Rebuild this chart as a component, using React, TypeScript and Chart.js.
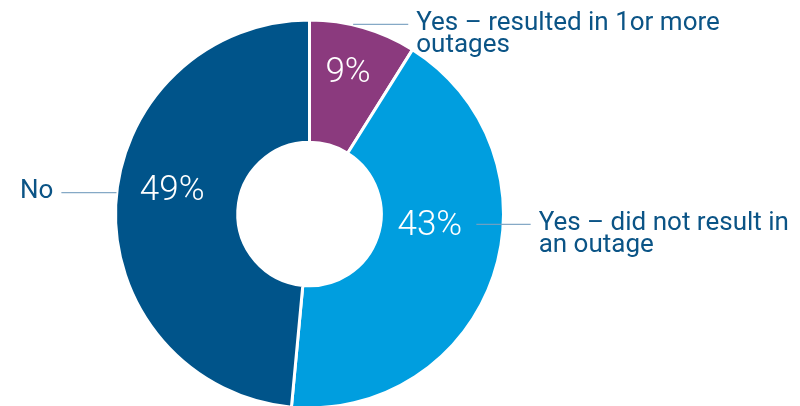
import React, { useEffect, useRef } from "react";
import { Chart, registerables } from "chart.js";

Chart.register(...registerables);

const categories = ["Yes – resulted in 1or more outages", "Yes – did not result in an outage", "No"];
const labelLines = [["Yes – resulted in 1or more", "outages"], ["Yes – did not result in", "an outage"], ["No"]];
const values = [9, 43, 49];
const colors = ["#8B3A7E", "#009EDF", "#00548A"];

// percent-label placement: angle (deg, clockwise from top) and radius fraction of outer radius
const pctPlace = [
  { a: 15.2, r: 0.758 },
  { a: 95.2, r: 0.623 },
  { a: 279.7, r: 0.718 },
];
// callout placement relative to center, as fractions of outer radius
const callouts = [
  { y: -0.977, x0: 0.225, x1: 0.509, side: 1 },
  { y: 0.053, x0: 0.86, x1: 1.14, side: 1 },
  { y: -0.11, x0: -0.995, x1: -1.279, side: -1 },
];

const labelPlugin = {
  id: "labelPlugin",
  afterDatasetsDraw(chart: any) {
    const meta = chart.getDatasetMeta(0);
    const arc = meta.data[0];
    if (!arc) return;
    const cx = arc.x;
    const cy = arc.y;
    const R = arc.outerRadius;
    const ctx = chart.ctx;
    ctx.save();
    // percent labels
    ctx.fillStyle = "#ffffff";
    ctx.font = "300 35px Roboto";
    ctx.textAlign = "center";
    ctx.textBaseline = "middle";
    values.forEach((v, i) => {
      const p = pctPlace[i];
      const ang = (p.a * Math.PI) / 180;
      const x = cx + Math.sin(ang) * R * p.r;
      const y = cy - Math.cos(ang) * R * p.r;
      ctx.fillText(v + "%", x, y + 1);
    });
    // callouts
    callouts.forEach((c, i) => {
      const y = cy + c.y * R;
      const xa = cx + c.x0 * R;
      const xb = cx + c.x1 * R;
      ctx.strokeStyle = "rgba(120,160,192,0.9)";
      ctx.lineWidth = 1.3;
      ctx.beginPath();
      ctx.moveTo(xa, y);
      ctx.lineTo(xb, y);
      ctx.stroke();
      ctx.fillStyle = "#0B5486";
      ctx.font = "26px Roboto";
      ctx.textBaseline = "middle";
      const lines = labelLines[i];
      ctx.textAlign = c.side > 0 ? "left" : "right";
      const tx = xb + c.side * 8;
      const lh = 22;
      lines.forEach((ln, k) => {
        ctx.fillText(ln, tx, y + k * lh - 1);
      });
    });
    ctx.restore();
  },
};

export default function App() {
  const ref = useRef<HTMLCanvasElement>(null);
  useEffect(() => {
    if (!ref.current) return;
    const chart = new Chart(ref.current, {
      type: "doughnut",
      data: {
        labels: categories,
        datasets: [
          {
            data: values,
            backgroundColor: colors,
            borderColor: "#ffffff",
            borderWidth: 3,
          },
        ],
      },
      options: {
        responsive: false,
        animation: false,
        cutout: "37%",
        layout: { padding: { left: 114, right: 295, top: 18.5, bottom: 10.5 } },
        plugins: {
          legend: { display: false },
          tooltip: { enabled: false },
        },
      },
      plugins: [labelPlugin],
    });
    return () => chart.destroy();
  }, []);
  return (
    <div style={{ position: "absolute", left: 0, top: 0, width: 800, height: 406, overflow: "hidden", background: "#fff" }}>
      <canvas ref={ref} width={800} height={420} style={{ width: 800, height: 420, display: "block" }} />
    </div>
  );
}
